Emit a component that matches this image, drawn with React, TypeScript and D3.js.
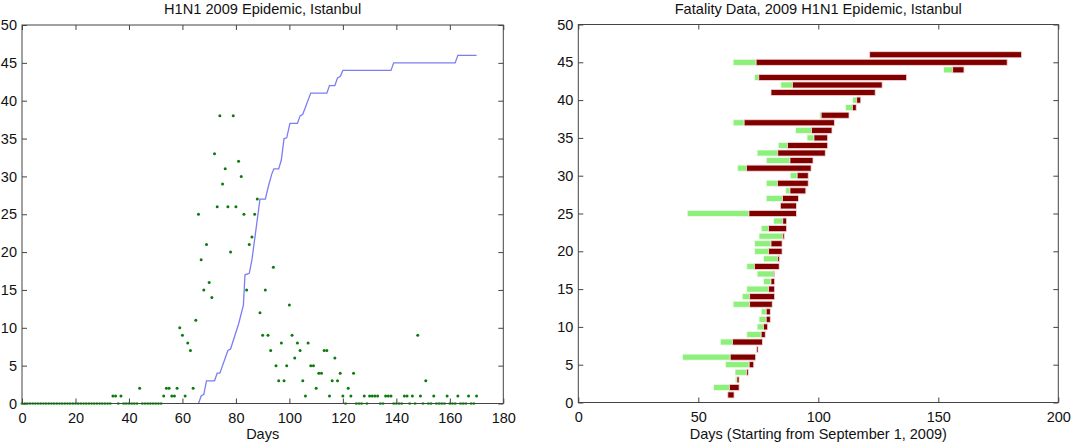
import { useEffect, useRef } from 'react';
import * as d3 from 'd3';

// daily new cases, day 0..170
const dailyCases = [
  0, 0, 0, 0, 0, 0, 0, 0, 0, 0, 0, 0, 0, 0, 0, 0, 0, 0, 0, 0,
  0, 0, 0, 0, 0, 0, 0, 0, 0, 0, 0, 0, 0, 0, 1, 1, 0, 1, 0, 0,
  0, 0, 0, 0, 2, 0, 0, 0, 0, 0, 0, 0, 0, 1, 2, 2, 1, 1, 2, 10,
  9, 1, 8, 7, 2, 11, 25, 19, 15, 21, 16, 14, 33, 26, 38, 29, 31, 26, 20, 38,
  26, 32, 30, 25, 15, 21, 22, 25, 27, 12, 9, 15, 9, 7, 18, 5, 3, 8, 3, 5,
  13, 9, 6, 8, 7, 3, 1, 8, 5, 5, 2, 4, 4, 7, 7, 1, 3, 6, 3, 4,
  1, 0, 2, 1, 4, 0, 0, 0, 1, 0, 1, 1, 1, 1, 0, 0, 1, 1, 1, 0,
  0, 0, 0, 1, 1, 0, 1, 0, 9, 1, 0, 3, 0, 0, 1, 0, 0, 0, 0, 1,
  0, 0, 0, 1, 0, 0, 0, 1, 0, 0, 1,
];

// cumulative fatalities curve vertices [day, count]
const cumulativeDeaths: [number, number][] = [
  [66, 0], [67, 1], [68, 1.2], [69, 3], [72, 3], [73, 4], [74, 4], [77, 7], [78, 7.2],
  [81, 10.5], [82.8, 13], [83.4, 17], [85, 17.2], [86, 19], [89, 27], [91, 27], [92, 28.5],
  [93.4, 30.3], [94.2, 31], [96, 31], [97, 32.2], [98, 35], [99, 35.1], [100.2, 37], [103, 37],
  [104, 38], [105, 38.2], [108, 41], [114, 41], [115, 42], [117, 42], [118, 43], [119, 43.2],
  [120, 44], [138, 44], [139, 45], [162, 45], [163, 46], [170, 46],
];

// fatality cases, one per row (1..46)
const onsetDay = [
  null, 56.3, 65.4, 65.3, 61.3, 43.4, null, 59.2, 70.2, 74.5,
  75.3, 76.2, 64.5, 68.3, 70.2, 77.2, 74.5, 70.2, 77.2, 73.4,
  73.4, 75.3, 76.2, 81.3, 45.4, null, 78.3, 86.4, 78.3, 88.3,
  66.4, 78.3, 74.5, 83.3, 95.3, 90.5, 64.5, 100.5, 111.4, 114.3,
  null, 84.4, 73.4, 152.2, 64.5, null,
];
const admitDay = [
  62.3, 63.0, 66.1, 70.1, 71.2, 63.3, 74.3, 64.3, 76.2, 77.2,
  78.3, 78.3, 71.4, 71.4, 79.3, 80.3, 81.3, 73.4, 83.1, 79.3,
  80.3, 85.2, 79.3, 85.2, 71.1, 84.2, 85.1, 88.2, 83.0, 91.2,
  70.1, 88.2, 83.1, 87.2, 98.2, 97.2, 69.1, 101.2, 114.2, 116.0,
  80.3, 89.2, 75.2, 156.0, 74.1, 121.4,
];
const deathDay = [
  64.9, 67.0, 67.0, 70.8, 73.1, 73.9, 74.9, 76.7, 77.9, 78.9,
  80.0, 80.0, 80.8, 81.8, 81.8, 81.8, 81.8, 83.7, 83.8, 84.9,
  84.9, 85.8, 86.8, 86.8, 90.9, 90.9, 91.7, 94.8, 95.8, 95.8,
  97.0, 97.8, 102.9, 103.9, 103.9, 105.7, 106.7, 112.8, 115.8, 117.7,
  123.7, 126.6, 136.8, 160.7, 178.7, 184.7,
];

const leftXTicks = [0, 20, 40, 60, 80, 100, 120, 140, 160, 180];
const rightXTicks = [0, 50, 100, 150, 200];
const yTicks = [0, 5, 10, 15, 20, 25, 30, 35, 40, 45, 50];

const FONT = '"Liberation Sans", Arial, Helvetica, sans-serif';

function drawFrame(
  g: d3.Selection<SVGGElement, unknown, null, undefined>,
  x: d3.ScaleLinear<number, number>,
  y: d3.ScaleLinear<number, number>,
  xTicks: number[],
  title: string,
  xLabel: string
) {
  const [x0, x1] = x.range();
  const [y0, y1] = y.range();
  const tick = 5;

  g.append('g')
    .attr('transform', `translate(0,${y0})`)
    .call(d3.axisBottom(x).tickValues(xTicks).tickSize(-tick).tickSizeOuter(0).tickPadding(9).tickFormat(d3.format('d')))
    .call(s => s.select('.domain').remove());
  g.append('g')
    .attr('transform', `translate(0,${y1})`)
    .call(d3.axisTop(x).tickValues(xTicks).tickSize(-tick).tickSizeOuter(0).tickFormat(() => ''))
    .call(s => s.select('.domain').remove());
  g.append('g')
    .attr('transform', `translate(${x0},0)`)
    .call(d3.axisLeft(y).tickValues(yTicks).tickSize(-tick).tickSizeOuter(0).tickPadding(5).tickFormat(d3.format('d')))
    .call(s => s.select('.domain').remove());
  g.append('g')
    .attr('transform', `translate(${x1},0)`)
    .call(d3.axisRight(y).tickValues(yTicks).tickSize(-tick).tickSizeOuter(0).tickFormat(() => ''))
    .call(s => s.select('.domain').remove());

  g.selectAll('.tick line').attr('stroke', '#444');
  g.selectAll('.tick text').attr('fill', '#111').style('font-size', '14.5px').style('font-family', FONT);

  g.append('rect')
    .attr('x', x0)
    .attr('y', y1)
    .attr('width', x1 - x0)
    .attr('height', y0 - y1)
    .attr('fill', 'none')
    .attr('stroke', '#444')
    .attr('stroke-width', 1);

  g.append('text')
    .attr('x', (x0 + x1) / 2)
    .attr('y', 14)
    .attr('text-anchor', 'middle')
    .attr('fill', '#111')
    .style('font-size', '14.6px')
    .style('font-family', FONT)
    .text(title);

  g.append('text')
    .attr('x', (x0 + x1) / 2)
    .attr('y', 439)
    .attr('text-anchor', 'middle')
    .attr('fill', '#111')
    .style('font-size', '14.5px')
    .style('font-family', FONT)
    .text(xLabel);
}

export default function App() {
  const svgRef = useRef<SVGSVGElement>(null);

  useEffect(() => {
    if (!svgRef.current) return;
    const svg = d3.select(svgRef.current);
    svg.selectAll('*').remove();

    // left panel: epidemic curve
    const xl = d3.scaleLinear().domain([0, 180]).range([22, 503.3]);
    const yl = d3.scaleLinear().domain([0, 50]).range([403.5, 25]);
    const left = svg.append('g');

    left.append('g')
      .selectAll('circle')
      .data(dailyCases)
      .enter()
      .append('circle')
      .attr('cx', (_, i) => xl(i))
      .attr('cy', d => yl(d))
      .attr('r', 1.5)
      .attr('fill', d => (d === 0 ? '#3fbf3f' : '#0d7a0d'));

    const line = d3.line<[number, number]>()
      .x(d => xl(d[0]))
      .y(d => yl(d[1]));
    left.append('path')
      .datum(cumulativeDeaths)
      .attr('d', line)
      .attr('fill', 'none')
      .attr('stroke', '#7b7ef2')
      .attr('stroke-width', 1.3);

    drawFrame(left, xl, yl, leftXTicks, 'H1N1 2009 Epidemic, Istanbul', 'Days');

    // right panel: fatality timelines
    const xr = d3.scaleLinear().domain([0, 200]).range([578.3, 1058.3]);
    const yr = d3.scaleLinear().domain([0, 50]).range([402.5, 24.5]);
    const right = svg.append('g');
    const barH = yr(0) - yr(0.8);
    const rows = deathDay.map((d, i) => ({ row: i + 1, onset: onsetDay[i], admit: admitDay[i], death: d }));

    right.append('g')
      .selectAll('rect')
      .data(rows.filter(r => r.onset !== null))
      .enter()
      .append('rect')
      .attr('x', r => xr(r.onset as number))
      .attr('y', r => yr(r.row) - barH / 2)
      .attr('width', r => xr(r.admit) - xr(r.onset as number))
      .attr('height', barH)
      .attr('fill', '#8cf07a')
      .attr('stroke', '#f2fbef')
      .attr('stroke-width', 0.8);

    right.append('g')
      .selectAll('rect')
      .data(rows)
      .enter()
      .append('rect')
      .attr('x', r => xr(r.admit))
      .attr('y', r => yr(r.row) - barH / 2)
      .attr('width', r => xr(r.death) - xr(r.admit))
      .attr('height', barH)
      .attr('fill', '#800000')
      .attr('stroke', '#f4d6d6')
      .attr('stroke-width', 0.8);

    drawFrame(right, xr, yr, rightXTicks, 'Fatality Data, 2009 H1N1 Epidemic, Istanbul', 'Days (Starting from September 1, 2009)');
  }, []);

  return (
    <svg
      ref={svgRef}
      width={1072}
      height={445}
      style={{ position: 'absolute', left: 0, top: 0, background: '#fff' }}
    />
  );
}
